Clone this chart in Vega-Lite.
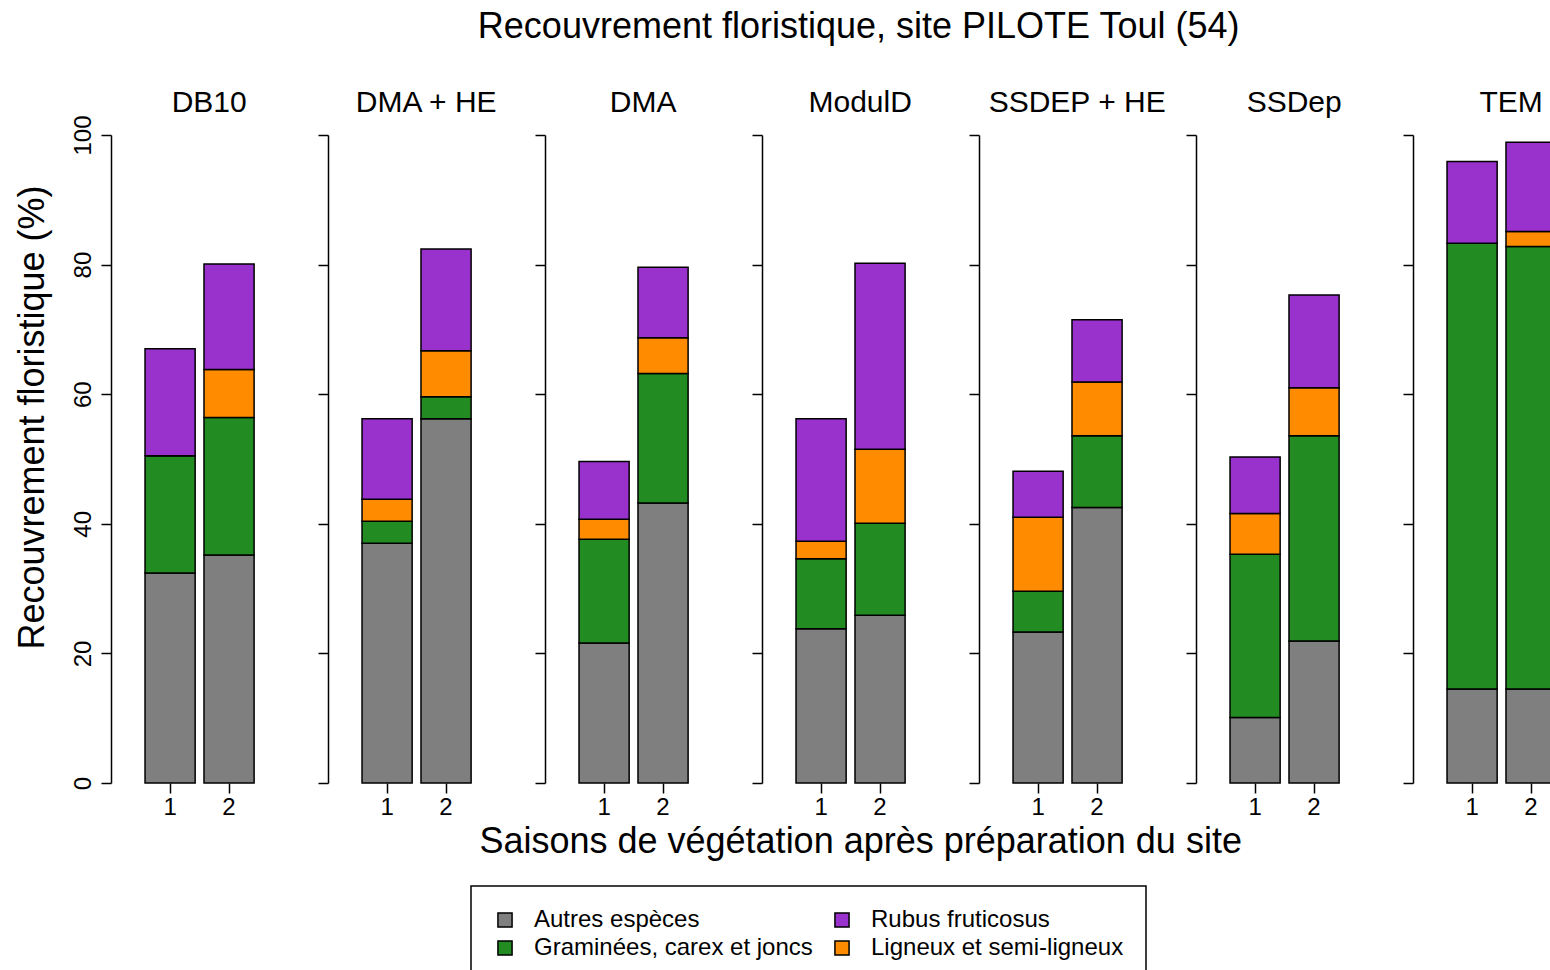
{
  "$schema": "https://vega.github.io/schema/vega-lite/v6.json",
  "background": "white",
  "padding": {"left": 13, "top": 8, "right": 0, "bottom": 0},
  "title": {"text": "Recouvrement floristique, site PILOTE Toul (54)", "fontSize": 36, "font": "Liberation Sans", "fontWeight": "normal", "color": "black", "anchor": "middle", "offset": 42, "dx": 47},
  "data": {"values": [
    {"traitement": "DB10", "saison": "1", "espece": "Autres espèces", "recouvrement": 32.4},
    {"traitement": "DB10", "saison": "1", "espece": "Graminées, carex et joncs", "recouvrement": 18.1},
    {"traitement": "DB10", "saison": "1", "espece": "Ligneux et semi-ligneux", "recouvrement": 0},
    {"traitement": "DB10", "saison": "1", "espece": "Rubus fruticosus", "recouvrement": 16.5},
    {"traitement": "DB10", "saison": "2", "espece": "Autres espèces", "recouvrement": 35.2},
    {"traitement": "DB10", "saison": "2", "espece": "Graminées, carex et joncs", "recouvrement": 21.2},
    {"traitement": "DB10", "saison": "2", "espece": "Ligneux et semi-ligneux", "recouvrement": 7.4},
    {"traitement": "DB10", "saison": "2", "espece": "Rubus fruticosus", "recouvrement": 16.3},
    {"traitement": "DMA + HE", "saison": "1", "espece": "Autres espèces", "recouvrement": 37.0},
    {"traitement": "DMA + HE", "saison": "1", "espece": "Graminées, carex et joncs", "recouvrement": 3.4},
    {"traitement": "DMA + HE", "saison": "1", "espece": "Ligneux et semi-ligneux", "recouvrement": 3.4},
    {"traitement": "DMA + HE", "saison": "1", "espece": "Rubus fruticosus", "recouvrement": 12.4},
    {"traitement": "DMA + HE", "saison": "2", "espece": "Autres espèces", "recouvrement": 56.2},
    {"traitement": "DMA + HE", "saison": "2", "espece": "Graminées, carex et joncs", "recouvrement": 3.4},
    {"traitement": "DMA + HE", "saison": "2", "espece": "Ligneux et semi-ligneux", "recouvrement": 7.1},
    {"traitement": "DMA + HE", "saison": "2", "espece": "Rubus fruticosus", "recouvrement": 15.7},
    {"traitement": "DMA", "saison": "1", "espece": "Autres espèces", "recouvrement": 21.6},
    {"traitement": "DMA", "saison": "1", "espece": "Graminées, carex et joncs", "recouvrement": 16.0},
    {"traitement": "DMA", "saison": "1", "espece": "Ligneux et semi-ligneux", "recouvrement": 3.1},
    {"traitement": "DMA", "saison": "1", "espece": "Rubus fruticosus", "recouvrement": 8.9},
    {"traitement": "DMA", "saison": "2", "espece": "Autres espèces", "recouvrement": 43.2},
    {"traitement": "DMA", "saison": "2", "espece": "Graminées, carex et joncs", "recouvrement": 20.0},
    {"traitement": "DMA", "saison": "2", "espece": "Ligneux et semi-ligneux", "recouvrement": 5.5},
    {"traitement": "DMA", "saison": "2", "espece": "Rubus fruticosus", "recouvrement": 10.9},
    {"traitement": "ModulD", "saison": "1", "espece": "Autres espèces", "recouvrement": 23.8},
    {"traitement": "ModulD", "saison": "1", "espece": "Graminées, carex et joncs", "recouvrement": 10.8},
    {"traitement": "ModulD", "saison": "1", "espece": "Ligneux et semi-ligneux", "recouvrement": 2.7},
    {"traitement": "ModulD", "saison": "1", "espece": "Rubus fruticosus", "recouvrement": 18.9},
    {"traitement": "ModulD", "saison": "2", "espece": "Autres espèces", "recouvrement": 25.9},
    {"traitement": "ModulD", "saison": "2", "espece": "Graminées, carex et joncs", "recouvrement": 14.2},
    {"traitement": "ModulD", "saison": "2", "espece": "Ligneux et semi-ligneux", "recouvrement": 11.4},
    {"traitement": "ModulD", "saison": "2", "espece": "Rubus fruticosus", "recouvrement": 28.7},
    {"traitement": "SSDEP + HE", "saison": "1", "espece": "Autres espèces", "recouvrement": 23.3},
    {"traitement": "SSDEP + HE", "saison": "1", "espece": "Graminées, carex et joncs", "recouvrement": 6.3},
    {"traitement": "SSDEP + HE", "saison": "1", "espece": "Ligneux et semi-ligneux", "recouvrement": 11.4},
    {"traitement": "SSDEP + HE", "saison": "1", "espece": "Rubus fruticosus", "recouvrement": 7.1},
    {"traitement": "SSDEP + HE", "saison": "2", "espece": "Autres espèces", "recouvrement": 42.5},
    {"traitement": "SSDEP + HE", "saison": "2", "espece": "Graminées, carex et joncs", "recouvrement": 11.1},
    {"traitement": "SSDEP + HE", "saison": "2", "espece": "Ligneux et semi-ligneux", "recouvrement": 8.3},
    {"traitement": "SSDEP + HE", "saison": "2", "espece": "Rubus fruticosus", "recouvrement": 9.6},
    {"traitement": "SSDep", "saison": "1", "espece": "Autres espèces", "recouvrement": 10.1},
    {"traitement": "SSDep", "saison": "1", "espece": "Graminées, carex et joncs", "recouvrement": 25.2},
    {"traitement": "SSDep", "saison": "1", "espece": "Ligneux et semi-ligneux", "recouvrement": 6.3},
    {"traitement": "SSDep", "saison": "1", "espece": "Rubus fruticosus", "recouvrement": 8.7},
    {"traitement": "SSDep", "saison": "2", "espece": "Autres espèces", "recouvrement": 21.9},
    {"traitement": "SSDep", "saison": "2", "espece": "Graminées, carex et joncs", "recouvrement": 31.7},
    {"traitement": "SSDep", "saison": "2", "espece": "Ligneux et semi-ligneux", "recouvrement": 7.4},
    {"traitement": "SSDep", "saison": "2", "espece": "Rubus fruticosus", "recouvrement": 14.3},
    {"traitement": "TEM", "saison": "1", "espece": "Autres espèces", "recouvrement": 14.5},
    {"traitement": "TEM", "saison": "1", "espece": "Graminées, carex et joncs", "recouvrement": 68.8},
    {"traitement": "TEM", "saison": "1", "espece": "Ligneux et semi-ligneux", "recouvrement": 0},
    {"traitement": "TEM", "saison": "1", "espece": "Rubus fruticosus", "recouvrement": 12.6},
    {"traitement": "TEM", "saison": "2", "espece": "Autres espèces", "recouvrement": 14.5},
    {"traitement": "TEM", "saison": "2", "espece": "Graminées, carex et joncs", "recouvrement": 68.3},
    {"traitement": "TEM", "saison": "2", "espece": "Ligneux et semi-ligneux", "recouvrement": 2.3},
    {"traitement": "TEM", "saison": "2", "espece": "Rubus fruticosus", "recouvrement": 13.8}
  ]},
  "spacing": 20,
  "bounds": "flush",
  "resolve": {"scale": {"color": "shared"}, "legend": {"color": "shared"}},
  "hconcat": [
    {
      "title": {"text": "DB10", "offset": -3},
      "width": 196.33, "height": 648,
      "transform": [{"filter": "datum.traitement == 'DB10'"}],
      "mark": {"type": "bar", "stroke": "black", "strokeWidth": 1.5},
      "encoding": {
        "x": {"field": "saison", "type": "ordinal", "scale": {"paddingInner": 0.15, "paddingOuter": 0.74, "align": 0.39}, "axis": {"title": null}},
        "y": {"field": "recouvrement", "type": "quantitative", "stack": "zero", "scale": {"domain": [0, 100], "nice": false}, "axis": {"title": "Recouvrement floristique (%)", "labels": true, "values": [0, 20, 40, 60, 80, 100], "titleY": 282}},
        "color": {"field": "espece", "type": "nominal", "scale": {"domain": ["Autres espèces", "Graminées, carex et joncs", "Rubus fruticosus", "Ligneux et semi-ligneux"], "range": ["#7F7F7F", "#228B22", "#9932CC", "#FF8C00"]}, "legend": {"title": null, "orient": "none", "legendX": 360, "legendY": 751, "columns": 2}},
        "order": {"field": "espece", "sort": "ascending"}
      }
    },
    {
      "title": "DMA + HE",
      "width": 196.33, "height": 648,
      "transform": [{"filter": "datum.traitement == 'DMA + HE'"}],
      "mark": {"type": "bar", "stroke": "black", "strokeWidth": 1.5},
      "encoding": {
        "x": {"field": "saison", "type": "ordinal", "scale": {"paddingInner": 0.15, "paddingOuter": 0.74, "align": 0.39}, "axis": {"title": null}},
        "y": {"field": "recouvrement", "type": "quantitative", "stack": "zero", "scale": {"domain": [0, 100], "nice": false}, "axis": {"title": null, "labels": false, "values": [0, 20, 40, 60, 80, 100]}},
        "color": {"field": "espece", "type": "nominal"},
        "order": {"field": "espece", "sort": "ascending"}
      }
    },
    {
      "title": "DMA",
      "width": 196.33, "height": 648,
      "transform": [{"filter": "datum.traitement == 'DMA'"}],
      "mark": {"type": "bar", "stroke": "black", "strokeWidth": 1.5},
      "encoding": {
        "x": {"field": "saison", "type": "ordinal", "scale": {"paddingInner": 0.15, "paddingOuter": 0.74, "align": 0.39}, "axis": {"title": null}},
        "y": {"field": "recouvrement", "type": "quantitative", "stack": "zero", "scale": {"domain": [0, 100], "nice": false}, "axis": {"title": null, "labels": false, "values": [0, 20, 40, 60, 80, 100]}},
        "color": {"field": "espece", "type": "nominal"},
        "order": {"field": "espece", "sort": "ascending"}
      }
    },
    {
      "title": "ModulD",
      "width": 196.33, "height": 648,
      "transform": [{"filter": "datum.traitement == 'ModulD'"}],
      "mark": {"type": "bar", "stroke": "black", "strokeWidth": 1.5},
      "encoding": {
        "x": {"field": "saison", "type": "ordinal", "scale": {"paddingInner": 0.15, "paddingOuter": 0.74, "align": 0.39}, "axis": {"title": "Saisons de végétation après préparation du site"}},
        "y": {"field": "recouvrement", "type": "quantitative", "stack": "zero", "scale": {"domain": [0, 100], "nice": false}, "axis": {"title": null, "labels": false, "values": [0, 20, 40, 60, 80, 100]}},
        "color": {"field": "espece", "type": "nominal"},
        "order": {"field": "espece", "sort": "ascending"}
      }
    },
    {
      "title": "SSDEP + HE",
      "width": 196.33, "height": 648,
      "transform": [{"filter": "datum.traitement == 'SSDEP + HE'"}],
      "mark": {"type": "bar", "stroke": "black", "strokeWidth": 1.5},
      "encoding": {
        "x": {"field": "saison", "type": "ordinal", "scale": {"paddingInner": 0.15, "paddingOuter": 0.74, "align": 0.39}, "axis": {"title": null}},
        "y": {"field": "recouvrement", "type": "quantitative", "stack": "zero", "scale": {"domain": [0, 100], "nice": false}, "axis": {"title": null, "labels": false, "values": [0, 20, 40, 60, 80, 100]}},
        "color": {"field": "espece", "type": "nominal"},
        "order": {"field": "espece", "sort": "ascending"}
      }
    },
    {
      "title": "SSDep",
      "width": 196.33, "height": 648,
      "transform": [{"filter": "datum.traitement == 'SSDep'"}],
      "mark": {"type": "bar", "stroke": "black", "strokeWidth": 1.5},
      "encoding": {
        "x": {"field": "saison", "type": "ordinal", "scale": {"paddingInner": 0.15, "paddingOuter": 0.74, "align": 0.39}, "axis": {"title": null}},
        "y": {"field": "recouvrement", "type": "quantitative", "stack": "zero", "scale": {"domain": [0, 100], "nice": false}, "axis": {"title": null, "labels": false, "values": [0, 20, 40, 60, 80, 100]}},
        "color": {"field": "espece", "type": "nominal"},
        "order": {"field": "espece", "sort": "ascending"}
      }
    },
    {
      "title": "TEM",
      "width": 196.33, "height": 648,
      "transform": [{"filter": "datum.traitement == 'TEM'"}],
      "mark": {"type": "bar", "stroke": "black", "strokeWidth": 1.5},
      "encoding": {
        "x": {"field": "saison", "type": "ordinal", "scale": {"paddingInner": 0.15, "paddingOuter": 0.74, "align": 0.39}, "axis": {"title": null}},
        "y": {"field": "recouvrement", "type": "quantitative", "stack": "zero", "scale": {"domain": [0, 100], "nice": false}, "axis": {"title": null, "labels": false, "values": [0, 20, 40, 60, 80, 100]}},
        "color": {"field": "espece", "type": "nominal"},
        "order": {"field": "espece", "sort": "ascending"}
      }
    }
  ],
  "config": {
    "font": "Liberation Sans",
    "view": {"stroke": null},
    "title": {"fontSize": 30, "fontWeight": "normal", "color": "black", "offset": 16, "font": "Liberation Sans"},
    "axis": {"domainColor": "black", "domainWidth": 1.5, "tickColor": "black", "tickWidth": 1.5, "labelColor": "black", "labelFontSize": 24, "labelFont": "Liberation Sans", "titleFont": "Liberation Sans", "titleFontSize": 36, "titleFontWeight": "normal", "titleColor": "black", "grid": false, "titleLimit": 3000},
    "axisX": {"domain": false, "ticks": true, "tickSize": 10, "labelAngle": 0, "labelPadding": 2, "titlePadding": 5},
    "axisY": {"tickSize": 10, "labelAngle": -90, "labelAlign": "center", "labelBaseline": "bottom", "labelPadding": 6, "titlePadding": 20},
    "legend": {"strokeColor": "black", "strokeWidth": 1.5, "padding": 22, "symbolType": "square", "symbolSize": 200, "symbolStrokeColor": "black", "symbolStrokeWidth": 1.5, "symbolOpacity": 1, "labelFontSize": 24, "labelFont": "Liberation Sans", "labelColor": "black", "labelOffset": 17, "labelLimit": 1000, "columnPadding": 17, "rowPadding": 4}
  }
}
